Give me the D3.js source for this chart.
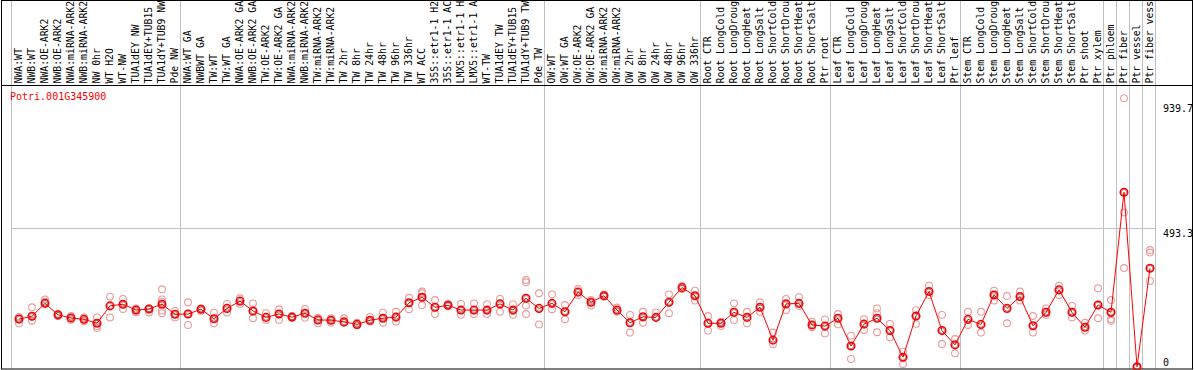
<!DOCTYPE html>
<html><head><meta charset="utf-8">
<script src="https://cdn.jsdelivr.net/npm/d3@7"></script>
<style>
html,body{margin:0;padding:0;background:#fff;}
svg{display:block;}
text{font-family:"DejaVu Sans Mono","Liberation Mono",monospace;font-size:10px;}
text.col{font-size:9.8px;}
</style></head>
<body>
<svg id="chart" width="1194" height="370"></svg>
<script>
const geneId = "Potri.001G345900";
const labels = [
"NWA:WT","NWB:WT","NWA:OE-ARK2","NWB:OE-ARK2","NWA:miRNA-ARK2","NWB:miRNA-ARK2","NW 0hr","WT H2O","WT-NW","TUA1dEY NW","TUA1dEY+TUB15","TUA1dY+TUB9 NW","Pde NW",
"NWA:WT GA","NWBWT GA","TW:WT","TW:WT GA","NWA:OE-ARK2 GA","NWB:OE-ARK2 GA","TW:OE-ARK2","TW:OE-ARK2 GA","NWA:miRNA-ARK2","NWB:miRNA-ARK2","TW:miRNA-ARK2","TW:miRNA-ARK2","TW 2hr","TW 8hr","TW 24hr","TW 48hr","TW 96hr","TW 336hr","WT ACC","35S::etr1-1 H2","35S::etr1-1 AC","LMX5::etr1-1 H","LMX5::etr1-1 A","WT-TW","TUA1dEY TW","TUA1dEY+TUB15","TUA1dY+TUB9 TW","Pde TW",
"OW:WT","OW:WT GA","OW:OE-ARK2","OW:OE-ARK2 GA","OW:miRNA-ARK2","OW:miRNA-ARK2","OW 2hr","OW 8hr","OW 24hr","OW 48hr","OW 96hr","OW 336hr",
"Root CTR","Root LongCold","Root LongDroug","Root LongHeat","Root LongSalt","Root ShortCold","Root ShortDrou","Root ShortHeat","Root ShortSalt","Ptr root",
"Leaf CTR","Leaf LongCold","Leaf LongDroug","Leaf LongHeat","Leaf LongSalt","Leaf ShortCold","Leaf ShortDrou","Leaf ShortHeat","Leaf ShortSalt","Ptr leaf",
"Stem CTR","Stem LongCold","Stem LongDroug","Stem LongHeat","Stem LongSalt","Stem ShortCold","Stem ShortDrou","Stem ShortHeat","Stem ShortSalt","Ptr shoot","Ptr xylem",
"Ptr phloem","Ptr fiber","Ptr vessel","Ptr fiber vess"];

const means = [
170,180,226,185,174,169,155,217,223,202,206,223,187,
188,205,171,208,234,199,176,188,177,191,167,166,160,151,166,173,177,228,248,212,219,202,202,202,224,202,244,208,
226,196,266,230,253,202,157,178,176,230,282,253,
155,155,194,176,212,95,224,226,149,145,
173,74,152,173,129,34,181,268,129,78,
169,151,256,208,250,146,194,274,194,141,220,
194,622,0,351];

const reps = [
[178,155],[212,164],[240,232],[188,181],[181,167],[176,162],[176,145,138],[250,176],[242,206],[208,194],[208,193],[276,240,231,200,191],[199,176],
[230,149],[208,200],[193,155],[224,193],[244,224],[226,173],[191,167],[205,167],[181,175],[206,175],[175,155],[173,157],[173,157],[157,148],[178,161],[193,157],[196,161],[246,205],[268,262,220],[238,188],[224,217],[224,185],[226,188],[223,188],[242,196],[223,185],[309,301,218,188],[262,151],
[258,205],[220,169],[277,256],[238,218],[258,250],[211,196],[185,122],[196,157],[194,176],[258,191],[288,277],[271,236],
[181,129],[161,145],[226,167],[196,155],[230,196],[122,80],[242,202],[248,217],[161,141],[169,119],
[188,151],[111,28],[170,131],[208,191,123],[153,105],[54,10],[202,153],[289,256],[185,81],[99,48],
[196,149],[196,122],[271,236],[252,155],[268,236],[181,122],[208,185],[289,256],[217,176],[157,129],[280,173],
[238,170,164],[957,550,352],[0],[416,407,306]];

const separators = [0,13,41,53,63,73,84,85,86,87,88];
const yTicks = [0, 493.3, 939.7];
const gridTicks = [493.3];

const svg = d3.select("#chart");
const plotLeft = 11, plotRight = 1155, headerBottom = 85, plotBottom = 369;

const x = d3.scaleBand().domain(d3.range(labels.length)).range([plotLeft, plotRight]);
const px = i => x(i) + 8;
const y = d3.scaleLinear().domain([0, 939.7]).range([366.8, 103]);

// separators (grey vertical)
const sepX = k => k < labels.length ? x(k) : plotRight;
svg.append("g").selectAll("line").data(separators).join("line")
  .attr("x1", d => sepX(d) + 0.5).attr("x2", d => sepX(d) + 0.5)
  .attr("y1", 0).attr("y2", plotBottom)
  .attr("stroke", "#c0c0c0").attr("stroke-width", 1);

// horizontal grid
svg.append("g").selectAll("line").data(gridTicks).join("line")
  .attr("x1", plotLeft).attr("x2", plotRight)
  .attr("y1", d => Math.round(y(d)) + 0.5).attr("y2", d => Math.round(y(d)) + 0.5)
  .attr("stroke", "#c0c0c0").attr("stroke-width", 1);

// frame
svg.append("rect").attr("x", 1.5).attr("y", 0.5).attr("width", 1191).attr("height", 368.5)
  .attr("fill", "none").attr("stroke", "#000").attr("stroke-width", 1);
svg.append("line").attr("x1", 1).attr("x2", 1193).attr("y1", headerBottom + 0.5).attr("y2", headerBottom + 0.5)
  .attr("stroke", "#000");

// column labels
svg.append("g").selectAll("text").data(labels).join("text")
  .attr("class", "col")
  .attr("transform", (d, i) => `translate(${px(i) - 0.5},83.5) rotate(-90)`)
  .attr("dy", "0.35em")
  .attr("fill", "#000")
  .text(d => d);

// y tick labels
svg.append("g").selectAll("text").data(yTicks).join("text")
  .attr("x", 1163)
  .attr("y", d => Math.min(y(d) + 1.5, 358.5))
  .attr("dominant-baseline", "hanging")
  .attr("fill", "#000")
  .text(d => d);

// gene id
svg.append("text").attr("x", 10).attr("y", 100).attr("fill", "#ff0000").text(geneId);

// replicates
const repData = [];
reps.forEach((arr, i) => arr.forEach(v => repData.push({i, v})));
svg.append("g").selectAll("circle").data(repData).join("circle")
  .attr("cx", d => px(d.i)).attr("cy", d => y(d.v)).attr("r", 3.4)
  .attr("fill", "none").attr("stroke", "#eb9a9a").attr("stroke-width", 1.1);

// mean line
svg.append("path").datum(means)
  .attr("d", d3.line().x((d, i) => px(i)).y(d => y(d)))
  .attr("fill", "none").attr("stroke", "#ff0000").attr("stroke-width", 1);

// mean markers
const mg = svg.append("g");
mg.selectAll("circle.m").data(means).join("circle").attr("class", "m")
  .attr("cx", (d, i) => px(i)).attr("cy", d => y(d)).attr("r", 3.8)
  .attr("fill", "none").attr("stroke", "#ff0000").attr("stroke-width", 1.5);
mg.selectAll("circle.n").data(means).join("circle").attr("class", "n")
  .attr("cx", (d, i) => px(i)).attr("cy", d => y(d)).attr("r", 2.7)
  .attr("fill", "none").attr("stroke", "#400000").attr("stroke-width", 0.6).attr("opacity", 0.7);
</script>
</body></html>
